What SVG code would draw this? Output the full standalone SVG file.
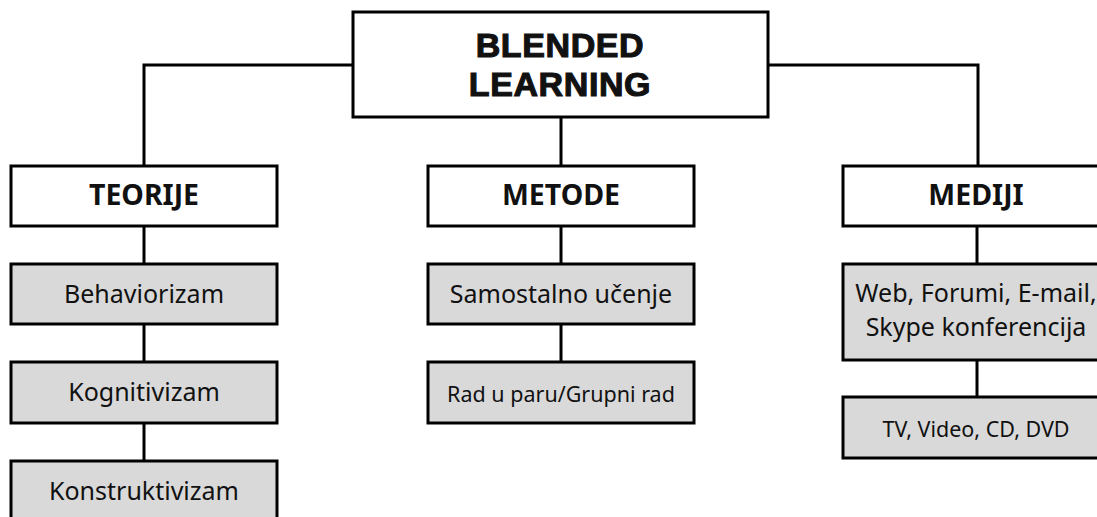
<svg xmlns="http://www.w3.org/2000/svg" width="1097" height="517" viewBox="0 0 1097 517">
<style>
.box{fill:#fff;stroke:#000;stroke-width:3}
.sub{fill:#d9d9d9;stroke:#000;stroke-width:3}
.ln{fill:none;stroke:#000;stroke-width:3}
.t{font-family:"Noto Sans","Open Sans",sans-serif;text-anchor:middle;fill:#111}
.h{font-weight:bold;font-size:28.5px}
.top{font-family:"Liberation Sans",Arial,sans-serif;font-weight:bold;font-size:34px;letter-spacing:0.6px;stroke:#111;stroke-width:1.1px}
.s{font-size:25px}
.xs{font-size:21.5px}
</style>
<rect width="1097" height="517" fill="#fff"/>
<g id="connectors">
<polyline class="ln" points="353,65 144,65 144,166"/>
<polyline class="ln" points="768,65 978,65 978,166"/>
<line class="ln" x1="561" y1="117" x2="561" y2="166"/>
<line class="ln" x1="144" y1="226" x2="144" y2="264"/>
<line class="ln" x1="144" y1="324" x2="144" y2="362"/>
<line class="ln" x1="144" y1="423" x2="144" y2="461"/>
<line class="ln" x1="561" y1="226" x2="561" y2="264"/>
<line class="ln" x1="561" y1="324" x2="561" y2="362"/>
<line class="ln" x1="977" y1="226" x2="977" y2="264"/>
<line class="ln" x1="977" y1="360" x2="977" y2="397"/>
</g>
<g id="blended">
<rect class="box" x="353" y="12" width="415" height="105"/>
<text class="t top" x="560" y="57">BLENDED</text>
<text class="t top" x="560" y="96">LEARNING</text>
</g>
<g id="teorije">
<rect class="box" x="11" y="166" width="266" height="60"/>
<text class="t h" x="144" y="205">TEORIJE</text>
</g>
<g id="behaviorizam">
<rect class="sub" x="11" y="264" width="266" height="60"/>
<text class="t s" x="144" y="303">Behaviorizam</text>
</g>
<g id="kognitivizam">
<rect class="sub" x="11" y="362" width="266" height="61"/>
<text class="t s" x="144" y="401">Kognitivizam</text>
</g>
<g id="konstruktivizam">
<rect class="sub" x="11" y="461" width="266" height="70"/>
<text class="t s" x="144" y="500">Konstruktivizam</text>
</g>
<g id="metode">
<rect class="box" x="428" y="166" width="266" height="60"/>
<text class="t h" x="561" y="205">METODE</text>
</g>
<g id="samostalno">
<rect class="sub" x="428" y="264" width="266" height="60"/>
<text class="t s" x="561" y="303">Samostalno učenje</text>
</g>
<g id="rad">
<rect class="sub" x="428" y="362" width="266" height="61"/>
<text class="t xs" x="561" y="402">Rad u paru/Grupni rad</text>
</g>
<g id="mediji">
<rect class="box" x="843" y="166" width="266" height="60"/>
<text class="t h" x="976" y="205">MEDIJI</text>
</g>
<g id="web">
<rect class="sub" x="843" y="264" width="266" height="96"/>
<text class="t s" x="976" y="301.5">Web, Forumi, E-mail,</text>
<text class="t s" x="976" y="336">Skype konferencija</text>
</g>
<g id="tv">
<rect class="sub" x="843" y="397" width="266" height="61"/>
<text class="t xs" x="976" y="437">TV, Video, CD, DVD</text>
</g>
</svg>
